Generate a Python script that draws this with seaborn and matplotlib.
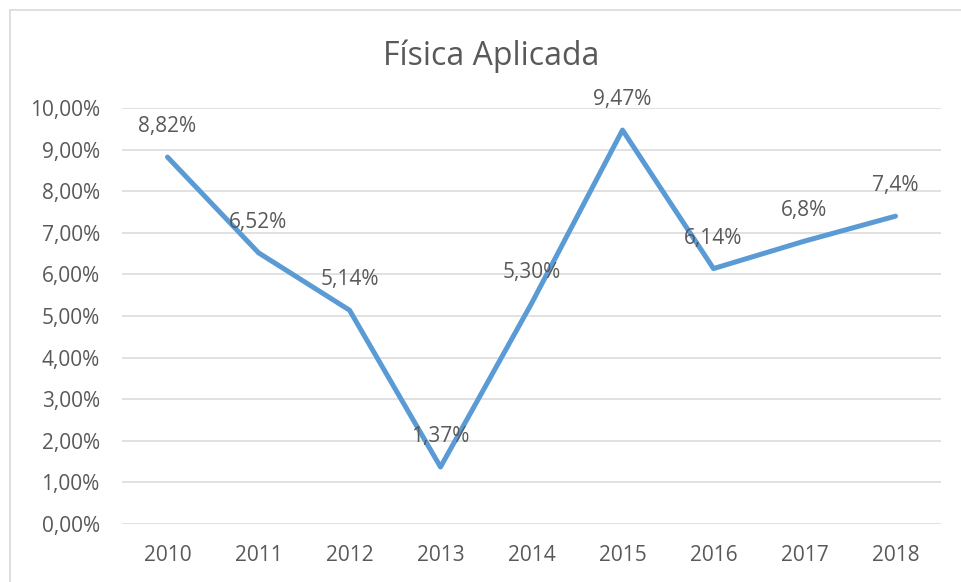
import matplotlib
matplotlib.use("Agg")
import matplotlib.pyplot as plt
import seaborn as sns
import pandas as pd
from matplotlib.lines import Line2D
from matplotlib.ticker import FuncFormatter

years = ["2010", "2011", "2012", "2013", "2014", "2015", "2016", "2017", "2018"]
values = [8.82, 6.52, 5.14, 1.37, 5.30, 9.47, 6.14, 6.8, 7.4]
labels = ["8,82%", "6,52%", "5,14%", "1,37%", "5,30%", "9,47%", "6,14%", "6,8%", "7,4%"]
title = "Física Aplicada"

sns.set_theme(style="white")
plt.rcParams["font.family"] = ["Open Sans", "DejaVu Sans"]
txt = "#595959"

df = pd.DataFrame({"pos": range(len(years)), "year": years, "value": values})

fig = plt.figure(figsize=(9.61, 5.82), dpi=100)
ax = fig.add_axes([122/961, 1-524/582, (941-122)/961, (524-108)/582])

sns.lineplot(data=df, x="pos", y="value", ax=ax, color="#5B9BD5", linewidth=3.6,
             solid_capstyle="round", solid_joinstyle="round")

ax.set_xlim(-0.5, len(years) - 0.5)
ax.set_ylim(0, 10)
ax.set_yticks(range(0, 11))
ax.yaxis.set_major_formatter(FuncFormatter(lambda v, p: f"{v:.2f}".replace(".", ",") + "%"))
ax.set_xticks(df["pos"])
ax.set_xticklabels(years)
ax.tick_params(axis="both", length=0, labelsize=15, labelcolor=txt)
ax.tick_params(axis="y", pad=16)
ax.tick_params(axis="x", pad=15)
ax.grid(axis="y", color="#D9D9D9", linewidth=1.1)
ax.set_axisbelow(True)
for s in ax.spines.values():
    s.set_visible(False)
ax.set_xlabel("")
ax.set_ylabel("")

for x, v, l in zip(df["pos"], values, labels):
    ax.annotate(l, (x, v), xytext=(0, 22), textcoords="offset points",
                ha="center", va="center", fontsize=15, color=txt)

fig.text(491/961, 1-56/582, title, ha="center", va="center", fontsize=23, color=txt)

fig.add_artist(Line2D([10/961, 10/961], [0, 1-10/582], color="#D9D9D9", linewidth=1.2,
                      transform=fig.transFigure))
fig.add_artist(Line2D([10/961, 1], [1-10/582, 1-10/582], color="#D9D9D9", linewidth=1.2,
                      transform=fig.transFigure))

fig.savefig("out.png", dpi=100, facecolor="white")
